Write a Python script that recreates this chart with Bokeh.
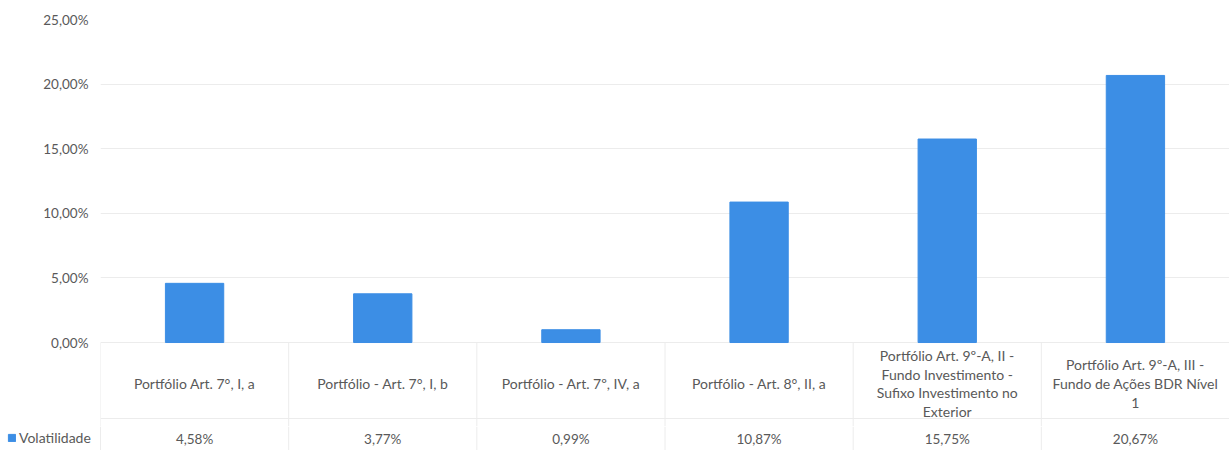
from bokeh.plotting import figure
from bokeh.layouts import column
from bokeh.models import (Range1d, FactorRange, FixedTicker, CustomJSTickFormatter,
                          ColumnDataSource, Legend, LegendItem, Span)
from bokeh.transform import dodge
from bokeh.core.properties import value
from bokeh.embed import file_html
from bokeh.resources import INLINE

# ---------------- data ----------------
categories = [
    "Portfólio Art. 7°, I, a",
    "Portfólio - Art. 7°, I, b",
    "Portfólio - Art. 7º, IV, a",
    "Portfólio - Art. 8°, II, a",
    "Portfólio Art. 9º-A, II -\nFundo Investimento -\nSufixo Investimento no\nExterior",
    "Portfólio Art. 9º-A, III -\nFundo de Ações BDR Nível\n1",
]
volatilidade = [0.0458, 0.0377, 0.0099, 0.1087, 0.1575, 0.2067]
series_name = "Volatilidade"
y_ticks = [0.0, 0.05, 0.10, 0.15, 0.20, 0.25]

# ---------------- style ----------------
BAR = "#3c8ee5"
TXT = "#595959"
GRID = "#ececec"
FONT = "Lato"
FS = "14px"

W = 1229
H_TOP, H_BOT = 426, 24
LEFT = 100
TOP = 19
Y_END = 0.25
Y_START = -0.0650
ROW_LABEL_Y = -0.0317
ROW_LINE_Y = -0.0588

n = len(categories)
value_labels = [f"{v * 100:.2f}%".replace(".", ",") for v in volatilidade]
src = ColumnDataSource(dict(cat=categories, val=volatilidade,
                            y0=[0.0] * n, y1=[Y_START] * n))

# ---------------- top: bars + category row ----------------
p = figure(width=W, height=H_TOP, output_backend="svg", toolbar_location=None,
           x_range=FactorRange(*categories, range_padding=0),
           y_range=Range1d(Y_START, Y_END),
           min_border_left=LEFT, min_border_right=0, min_border_top=TOP, min_border_bottom=0)
p.outline_line_color = None
p.xaxis.visible = False
p.xgrid.grid_line_color = None

p.yaxis.ticker = FixedTicker(ticks=y_ticks)
p.yaxis.formatter = CustomJSTickFormatter(
    code="return (tick * 100).toFixed(2).replace('.', ',') + '%';")
p.yaxis.axis_line_color = None
p.yaxis.major_tick_line_color = None
p.yaxis.minor_tick_line_color = None
p.yaxis.major_tick_out = 0
p.yaxis.major_label_standoff = 12
p.yaxis.major_label_text_font = FONT
p.yaxis.major_label_text_font_size = "13.5px"
p.yaxis.major_label_text_color = TXT
p.ygrid.grid_line_color = GRID
p.ygrid.ticker = FixedTicker(ticks=y_ticks)

p.segment(x0=dodge("cat", -0.5, range=p.x_range), x1=dodge("cat", -0.5, range=p.x_range),
          y0="y0", y1="y1", source=src, line_color=GRID, line_width=1)
p.add_layout(Span(location=ROW_LINE_Y, dimension="width", line_color=GRID, line_width=1))

bars = p.vbar(x="cat", top="val", width=0.31, source=src,
              fill_color=BAR, line_color=BAR)

p.text(x="cat", y=ROW_LABEL_Y, text="cat", source=src,
       text_align="center", text_baseline="middle", text_line_height=1.1,
       text_font=value(FONT), text_font_size=FS, text_color=TXT)

# ---------------- bottom: legend + value row ----------------
col_px = (W - LEFT) / n
xs = [i + 0.5 for i in range(n)]
bsrc = ColumnDataSource(dict(x=xs, lab=value_labels, b=list(range(n))))
q = figure(width=W, height=H_BOT, output_backend="svg", toolbar_location=None,
           x_range=Range1d(-LEFT / col_px, n), y_range=Range1d(0, 1),
           min_border_left=0, min_border_right=0, min_border_top=0, min_border_bottom=0)
if "frame_align" in q.properties():
    q.frame_align = False
    p.frame_align = False
q.outline_line_color = None
q.axis.visible = False
q.grid.grid_line_color = None
q.segment(x0="b", x1="b", y0=0, y1=1, source=bsrc, line_color=GRID, line_width=1)
q.text(x="x", y=0.5, text="lab", source=bsrc,
       text_align="center", text_baseline="middle",
       text_font=value(FONT), text_font_size="13.5px", text_color=TXT)

# legend key: same fill as the bars, kept below the visible band of this strip
proxy = q.rect(x="x", y=-1, width=0.1, height=0.1, source=bsrc,
               fill_color=BAR, line_color=BAR)
legend = Legend(items=[LegendItem(label=series_name, renderers=[proxy])],
                location=(7, 4), orientation="horizontal",
                padding=0, margin=0, spacing=0,
                glyph_width=9, glyph_height=9, label_standoff=3,
                label_text_font=FONT, label_text_font_size=FS, label_text_color=TXT,
                border_line_color=None, background_fill_alpha=0)
q.add_layout(legend)

layout = column(p, q, spacing=0)
open("out.html", "w").write(file_html(layout, INLINE))
